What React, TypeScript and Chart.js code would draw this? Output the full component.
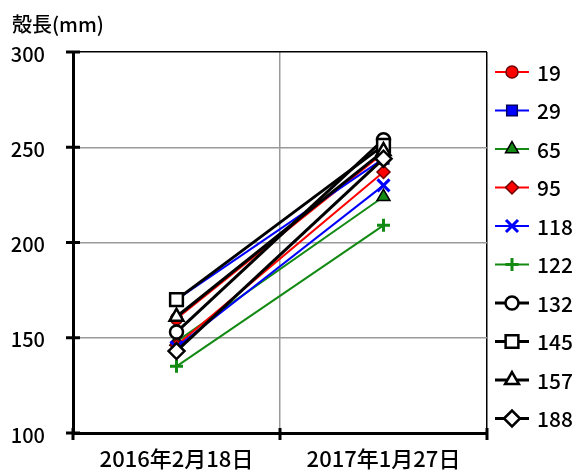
import React, { useEffect, useRef } from 'react';
import { Chart, registerables } from 'chart.js';
import { drawPoint } from 'chart.js/helpers';

Chart.register(...registerables);

const FONT = '"Noto Sans CJK JP", "Noto Sans", sans-serif';
const WEIGHT = '500';

const titleText = '殻長(mm)';
const dateLabels = ['2016年2月18日', '2017年1月27日'];
const seriesNames = ['19', '29', '65', '95', '118', '122', '132', '145', '157', '188'];

const s19 = [160, 247];
const s29 = [170, 244];
const s65 = [148, 224];
const s95 = [146, 237];
const s118 = [145, 230];
const s122 = [135, 209];
const s132 = [153, 254];
const s145 = [170, 251];
const s157 = [161, 248];
const s188 = [143, 244];

const seriesValues = [s19, s29, s65, s95, s118, s122, s132, s145, s157, s188];

const yMin = 100;
const yMax = 300;
const yStep = 50;

const RED = '#ff0000';
const BLUE = '#0000ff';
const GREEN = '#138a13';
const BLACK = '#000000';

type Sty = {
  color: string;
  lw: number;
  ps: any;
  r: number;
  fill: string;
  stroke: string;
  bw: number;
};

const styles: Sty[] = [
  { color: RED, lw: 2, ps: 'circle', r: 6, fill: RED, stroke: '#700000', bw: 1.5 },
  { color: BLUE, lw: 2, ps: 'rect', r: 7.5, fill: BLUE, stroke: '#000060', bw: 1.5 },
  { color: GREEN, lw: 2, ps: 'triangle', r: 7.5, fill: GREEN, stroke: '#000000', bw: 1.5 },
  { color: RED, lw: 2, ps: 'rectRot', r: 6.5, fill: RED, stroke: '#700000', bw: 1.5 },
  { color: BLUE, lw: 2, ps: 'crossRot', r: 8.5, fill: BLUE, stroke: BLUE, bw: 3 },
  { color: GREEN, lw: 2, ps: 'cross', r: 6.5, fill: GREEN, stroke: GREEN, bw: 3 },
  { color: BLACK, lw: 3, ps: 'circle', r: 6.5, fill: '#ffffff', stroke: BLACK, bw: 2.5 },
  { color: BLACK, lw: 3, ps: 'rect', r: 9, fill: '#ffffff', stroke: BLACK, bw: 2.5 },
  { color: BLACK, lw: 3, ps: 'triangle', r: 8, fill: '#ffffff', stroke: BLACK, bw: 2.5 },
  { color: BLACK, lw: 3, ps: 'rectRot', r: 8, fill: '#ffffff', stroke: BLACK, bw: 2.5 },
];

const extrasPlugin = {
  id: 'extras',
  afterDraw(chart: any) {
    const { ctx, chartArea, scales } = chart;
    const xs = scales.x;
    const ys = scales.y;
    ctx.save();
    // title
    ctx.fillStyle = '#000';
    ctx.font = `${WEIGHT} 20px ${FONT}`;
    ctx.textAlign = 'left';
    ctx.textBaseline = 'middle';
    ctx.fillText(titleText, 12, 24);

    // crossing tick marks on y axis
    ctx.strokeStyle = '#000';
    ctx.lineWidth = 3;
    ys.ticks.forEach((_t: any, i: number) => {
      const y = ys.getPixelForTick(i);
      ctx.beginPath();
      ctx.moveTo(chartArea.left - 7, y);
      ctx.lineTo(chartArea.left + 7, y);
      ctx.stroke();
    });
    // crossing tick marks on x axis (category boundaries)
    const n = xs.ticks.length;
    const xPos: number[] = [];
    for (let i = 0; i < n; i++) {
      const p = xs.getPixelForTick(i);
      const half = n > 1 ? (xs.getPixelForTick(1) - xs.getPixelForTick(0)) / 2 : (xs.right - xs.left) / 2;
      if (i === 0) xPos.push(p - half);
      xPos.push(p + half);
    }
    xPos.forEach((x) => {
      ctx.beginPath();
      ctx.moveTo(x, chartArea.bottom - 5);
      ctx.lineTo(x, chartArea.bottom + 7);
      ctx.stroke();
    });

    // legend
    const lx0 = chartArea.right + 8;
    const lx1 = lx0 + 34;
    const mx = (lx0 + lx1) / 2;
    const top = chartArea.top + 20;
    const gap = 38.5;
    chart.data.datasets.forEach((ds: any, i: number) => {
      const st = styles[i];
      const y = top + i * gap;
      ctx.strokeStyle = st.color;
      ctx.lineWidth = st.lw;
      ctx.beginPath();
      ctx.moveTo(lx0, y);
      ctx.lineTo(lx1, y);
      ctx.stroke();
      ctx.fillStyle = st.fill;
      ctx.strokeStyle = st.stroke;
      ctx.lineWidth = st.bw;
      drawPoint(ctx, { pointStyle: st.ps, radius: st.r, borderWidth: st.bw, rotation: 0 } as any, mx, y);
      ctx.fillStyle = '#000';
      ctx.font = `${WEIGHT} 21px ${FONT}`;
      ctx.textAlign = 'left';
      ctx.textBaseline = 'middle';
      ctx.fillText(ds.label, lx1 + 8, y + 1);
    });
    ctx.restore();
  },
};

export default function App() {
  const ref = useRef<HTMLCanvasElement | null>(null);
  useEffect(() => {
    if (!ref.current) return;
    const datasets = seriesValues.map((vals, i) => {
      const st = styles[i];
      return {
        label: seriesNames[i],
        data: vals,
        borderColor: st.color,
        borderWidth: st.lw,
        backgroundColor: st.fill,
        pointStyle: st.ps,
        pointRadius: st.r,
        pointBackgroundColor: st.fill,
        pointBorderColor: st.stroke,
        pointBorderWidth: st.bw,
        fill: false,
        tension: 0,
        order: seriesValues.length - i,
      };
    });
    const chart = new Chart(ref.current, {
      type: 'line',
      data: { labels: dateLabels, datasets },
      options: {
        responsive: false,
        animation: false,
        events: [],
        layout: { padding: { top: 52, right: 86, bottom: 0, left: 0 } },
        plugins: {
          legend: { display: false },
          title: { display: false },
          tooltip: { enabled: false },
        },
        scales: {
          x: {
            type: 'category',
            offset: true,
            grid: {
              offset: true,
              drawTicks: false,
              color: (c: any) => (c.tick ? '#9a9a9a' : '#000'),
              lineWidth: 1.5,
            },
            border: { display: true, color: '#000', width: 3 },
            ticks: {
              color: '#000',
              font: { family: FONT, size: 22, weight: WEIGHT as any },
              padding: 12,
              maxRotation: 0,
              autoSkip: false,
            },
            afterFit: (s: any) => {
              s.height = 38;
            },
          },
          y: {
            min: yMin,
            max: yMax,
            ticks: {
              stepSize: yStep,
              color: '#000',
              font: { family: FONT, size: 20, weight: WEIGHT as any },
              padding: 28,
              labelOffset: 2,
            },
            grid: {
              drawTicks: false,
              color: (c: any) => (c.tick && c.tick.value === yMax ? '#000' : '#9a9a9a'),
              lineWidth: 1.5,
            },
            border: { display: true, color: '#000', width: 3 },
            afterFit: (s: any) => {
              s.width = 73;
            },
          },
        },
      },
      plugins: [extrasPlugin],
    });
    return () => chart.destroy();
  }, []);
  return (
    <div style={{ position: 'fixed', left: 0, top: 0, width: 573, height: 473, background: '#fff' }}>
      <canvas ref={ref} width={573} height={473} style={{ display: 'block' }} />
    </div>
  );
}
